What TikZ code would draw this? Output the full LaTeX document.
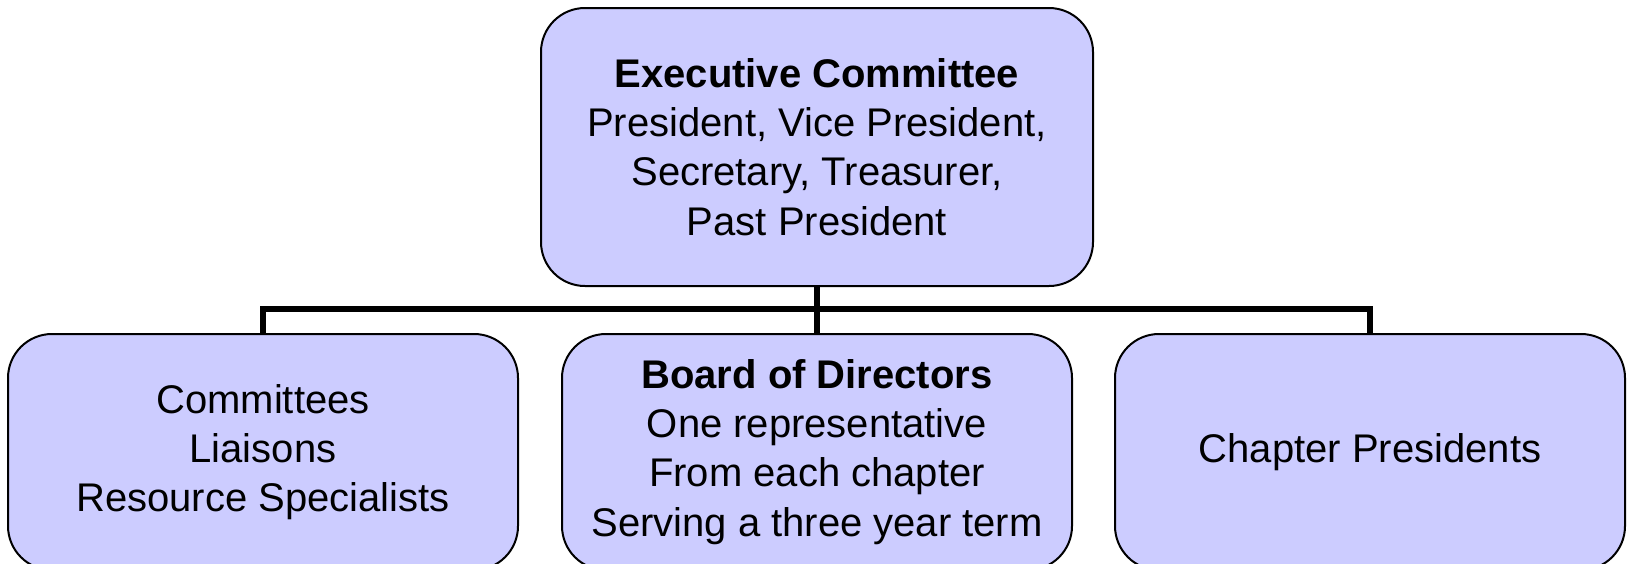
\documentclass[tikz,border=0pt]{standalone}
\usepackage{fontspec}
\setmainfont{Liberation Sans}
\definecolor{boxfill}{HTML}{CCCCFF}
\newcommand{\trailsp}{\hspace*{5.56pt}}
\begin{document}
\begin{tikzpicture}[x=0.5pt,y=-0.5pt,
  orgbox/.style={draw=black, line width=1pt, fill=boxfill, rounded corners=22pt,
    align=center, inner sep=0pt, font=\fontsize{20}{24.6}\selectfont},
  topbox/.style={orgbox, minimum width=276pt, minimum height=139pt},
  lowbox/.style={orgbox, minimum width=255pt, minimum height=118pt},
  conn/.style={draw=black, line width=2.6pt}]
\useasboundingbox (0,0) rectangle (1632,563);
\clip (0,0) rectangle (1632,563);
\node[topbox] (top) at (817,147) {\textbf{Executive Committee}\\President, Vice President,\\Secretary, Treasurer,\trailsp\\Past President};
\node[lowbox] (left) at (263,452) {Committees\\Liaisons\\Resource Specialists};
\node[lowbox] (mid) at (817,452) {\textbf{Board of Directors}\\One representative\trailsp\\From each chapter\\Serving a three year term};
\node[lowbox] (right) at (1370,452) {Chapter Presidents};
\coordinate (bus) at (817,309);
\draw[conn] (top.south) -- (mid.north);
\draw[conn] (left.north) -- (left.north |- bus) -- (right.north |- bus) -- (right.north);
\end{tikzpicture}
\end{document}
